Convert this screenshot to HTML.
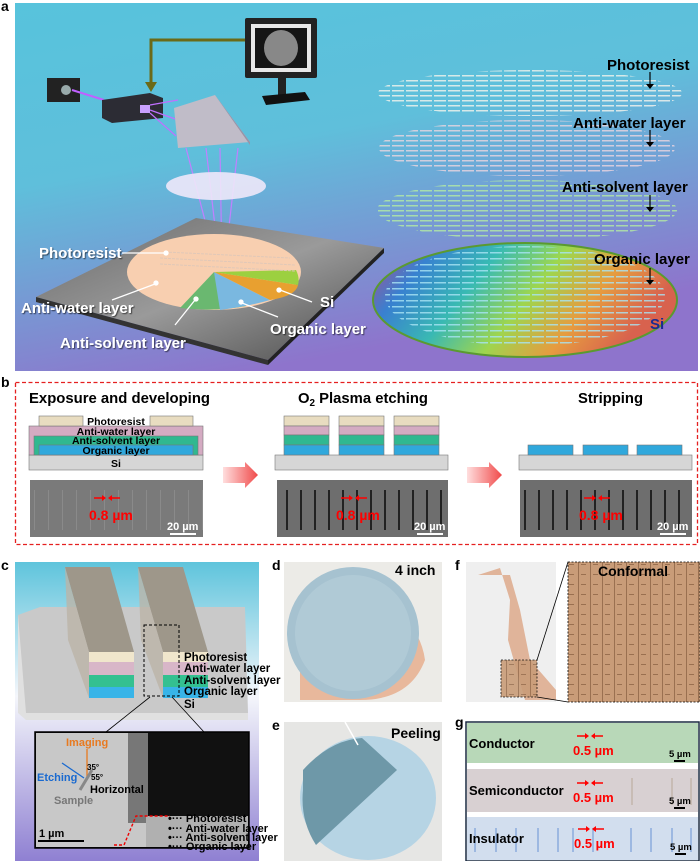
<!DOCTYPE html>
<html><head><meta charset="utf-8"><style>
html,body{margin:0;padding:0;background:#fff;width:700px;height:861px;overflow:hidden}
svg{display:block}
text{font-family:"Liberation Sans",sans-serif;font-weight:bold}
</style></head><body>
<svg width="700" height="861" viewBox="0 0 700 861" xmlns="http://www.w3.org/2000/svg">
<defs>
<linearGradient id="ga" x1="0" y1="0" x2="0.35" y2="1">
<stop offset="0" stop-color="#57c3dc"/><stop offset="0.45" stop-color="#5fbfdb"/><stop offset="1" stop-color="#8e74cc"/></linearGradient>
<linearGradient id="gc" x1="0" y1="0" x2="0" y2="1">
<stop offset="0" stop-color="#5ec4dc"/><stop offset="0.45" stop-color="#f4f6fb"/><stop offset="1" stop-color="#8f80d2"/></linearGradient>
<linearGradient id="rainbow" x1="0" y1="0" x2="1" y2="0.3">
<stop offset="0" stop-color="#c04080"/><stop offset="0.2" stop-color="#3080d0"/><stop offset="0.4" stop-color="#30c0b0"/><stop offset="0.6" stop-color="#a0e040"/><stop offset="0.8" stop-color="#f0a030"/><stop offset="1" stop-color="#e06040"/></linearGradient>
<linearGradient id="plat" x1="0" y1="0" x2="1" y2="1">
<stop offset="0" stop-color="#6a6a6a"/><stop offset="0.5" stop-color="#9a9a9a"/><stop offset="1" stop-color="#4a4a4a"/></linearGradient>
<linearGradient id="arr" x1="0" y1="0" x2="1" y2="0">
<stop offset="0" stop-color="#ffdede"/><stop offset="1" stop-color="#f04a4a"/></linearGradient>
<pattern id="lw" width="14" height="5" patternUnits="userSpaceOnUse"><rect width="12" height="1.5" fill="#fff8ee"/></pattern>
<pattern id="lp" width="14" height="5" patternUnits="userSpaceOnUse"><rect width="12" height="1.5" fill="#f4d8e0"/></pattern>
<pattern id="lg" width="14" height="5" patternUnits="userSpaceOnUse"><rect width="12" height="1.5" fill="#b8f0a0"/></pattern>
<pattern id="lb" width="14" height="6" patternUnits="userSpaceOnUse"><rect width="12" height="1.5" fill="#a8e4f4"/></pattern>
<pattern id="sem" width="14" height="60" patternUnits="userSpaceOnUse"><rect width="14" height="60" fill="#6e6e6e"/><rect x="6" y="10" width="2" height="40" fill="#222"/></pattern>
<pattern id="sem0" width="14" height="60" patternUnits="userSpaceOnUse"><rect width="14" height="60" fill="#7a7a7a"/><rect x="6" y="10" width="1" height="40" fill="#8a8a8a"/></pattern>
<pattern id="skin" width="12" height="10" patternUnits="userSpaceOnUse"><rect width="12" height="10" fill="#c99c78"/><rect x="2" y="0" width="1" height="10" fill="#9a7050"/><rect x="5" y="4" width="5" height="1" fill="#9a7050"/></pattern>
<filter id="sh"><feDropShadow dx="1" dy="1" stdDeviation="0.6" flood-color="#000" flood-opacity="0.6"/></filter>
</defs>

<text x="1" y="11" font-size="14">a</text>
<rect x="15" y="3" width="683" height="368" fill="url(#ga)"/>
<rect x="245" y="18" width="72" height="60" fill="#222" rx="2"/>
<rect x="251" y="24" width="60" height="48" fill="#e8e8e8"/>
<rect x="255" y="28" width="52" height="40" fill="#151515"/>
<ellipse cx="281" cy="48" rx="17" ry="18" fill="#888"/>
<rect x="278" y="78" width="8" height="18" fill="#222"/>
<path d="M262 96 L305 92 L310 100 L266 105 Z" fill="#111"/>
<path d="M245 40 L151 40 L151 84" stroke="#6b6a18" stroke-width="3" fill="none"/>
<path d="M145 82 L157 82 L151 92 Z" fill="#6b6a18"/>
<rect x="47" y="78" width="33" height="24" fill="#222"/>
<circle cx="66" cy="90" r="5" fill="#9aa"/>
<line x1="72" y1="90" x2="104" y2="100" stroke="#c060ff" stroke-width="2"/>
<path d="M102 100 L150 93 L163 98 L163 118 L112 123 L102 118 Z" fill="#2c2c34"/>
<rect x="140" y="105" width="10" height="8" fill="#c8a0ff"/>
<path d="M150 105 L178 100 M150 110 L178 120 M150 113 L176 136" stroke="#c070ff" stroke-width="1.2"/>
<path d="M174 108 L215 95 L250 142 L178 148 Z" fill="#c0bcc8"/>
<path d="M215 95 L250 142 L250 145 Z" fill="#9894a8"/>
<path d="M186 148 L218 270 M206 148 L220 270 M220 148 L222 270 M238 148 L224 270" stroke="#c080ff" stroke-width="1.2"/>
<ellipse cx="216" cy="186" rx="50" ry="14" fill="#eee8fa" opacity="0.9"/>
<path d="M196 218 L384 248 L268 360 L36 297 Z" fill="url(#plat)"/>
<path d="M36 297 L268 360 L268 365 L36 302 Z" fill="#333"/>
<path d="M384 248 L384 253 L268 365 L268 360 Z" fill="#222"/>
<ellipse cx="214" cy="272" rx="87" ry="38" fill="#f8cfb0"/>
<path d="M214 272 L180 308 Q214 312 246 306 Z" fill="#6ab870"/>
<path d="M214 272 L220 310 Q250 306 270 300 Z" fill="#7ab8e0"/>
<path d="M214 272 L298 285 Q296 296 270 300 Z" fill="#e8a030"/>
<path d="M214 272 L298 285 Q300 278 296 270 Z" fill="#9cd040"/>
<g stroke="#e0c8b8" stroke-width="1" stroke-dasharray="3 1">
<line x1="165" y1="252" x2="290" y2="258"/><line x1="160" y1="258" x2="295" y2="265"/><line x1="160" y1="264" x2="295" y2="271"/></g>
<g fill="#fff" font-size="15" filter="url(#sh)">
<text x="39" y="258">Photoresist</text>
<text x="21" y="313">Anti-water layer</text>
<text x="60" y="348">Anti-solvent layer</text>
<text x="270" y="334">Organic layer</text>
<text x="320" y="307">Si</text></g>
<g stroke="#fff" stroke-width="1.3" fill="#fff">
<line x1="122" y1="253" x2="165" y2="253"/><circle cx="166" cy="253" r="2"/>
<line x1="112" y1="300" x2="155" y2="284"/><circle cx="156" cy="283" r="2"/>
<line x1="175" y1="325" x2="195" y2="300"/><circle cx="196" cy="299" r="2"/>
<line x1="278" y1="317" x2="242" y2="303"/><circle cx="241" cy="302" r="2"/>
<line x1="312" y1="302" x2="280" y2="290"/><circle cx="279" cy="290" r="2"/></g>
<ellipse cx="525" cy="300" rx="152" ry="57" fill="url(#rainbow)" opacity="0.9"/>
<ellipse cx="525" cy="300" rx="152" ry="57" fill="none" stroke="#5a9a30" stroke-width="2"/>
<ellipse cx="525" cy="296" rx="140" ry="50" fill="url(#lb)" opacity="0.8"/>
<ellipse cx="527" cy="210" rx="150" ry="30" fill="url(#lg)" opacity="0.75"/>
<ellipse cx="527" cy="148" rx="148" ry="28" fill="url(#lp)" opacity="0.75"/>
<ellipse cx="530" cy="93" rx="152" ry="23" fill="url(#lw)" opacity="0.75"/>
<g font-size="15" fill="#000">
<text x="607" y="70">Photoresist</text>
<text x="573" y="128">Anti-water layer</text>
<text x="562" y="192">Anti-solvent layer</text>
<text x="594" y="264">Organic layer</text></g>
<text x="650" y="329" font-size="15" fill="#1a2a90">Si</text>
<g stroke="#000" stroke-width="1.2">
<line x1="650" y1="72" x2="650" y2="86"/><line x1="650" y1="130" x2="650" y2="144"/><line x1="650" y1="195" x2="650" y2="209"/><line x1="650" y1="268" x2="650" y2="282"/></g>
<g fill="#000"><path d="M646 84 L654 84 L650 89Z"/><path d="M646 142 L654 142 L650 147Z"/><path d="M646 207 L654 207 L650 212Z"/><path d="M646 280 L654 280 L650 285Z"/></g>

<text x="1" y="387" font-size="14">b</text>
<rect x="15.5" y="382.5" width="682" height="162" fill="none" stroke="#e52020" stroke-width="1.3" stroke-dasharray="4 2.5"/>
<g font-size="15" fill="#000">
<text x="29" y="403" textLength="181" lengthAdjust="spacingAndGlyphs">Exposure and developing</text>
<text x="298" y="403" textLength="130" lengthAdjust="spacingAndGlyphs">O<tspan font-size="10" dy="3">2</tspan><tspan dy="-3"> Plasma etching</tspan></text>
<text x="578" y="403" textLength="65" lengthAdjust="spacingAndGlyphs">Stripping</text></g>
<g stroke="#777" stroke-width="0.6">
<rect x="29" y="455" width="174" height="15" fill="#d6d6d6"/>
<rect x="29" y="426" width="174" height="29" fill="#d4abc2"/>
<rect x="34" y="436" width="164" height="19" fill="#30b890"/>
<rect x="39" y="445" width="154" height="10" fill="#30a8dc"/>
<rect x="39" y="416" width="44" height="10" fill="#e8dcc0"/>
<rect x="150" y="416" width="43" height="10" fill="#e8dcc0"/>
<rect x="275" y="455" width="173" height="15" fill="#d6d6d6"/>
<rect x="519" y="455" width="173" height="15" fill="#d6d6d6"/>
</g>
<g stroke="#777" stroke-width="0.6">
<g id="col"><rect x="284" y="416" width="45" height="10" fill="#e8dcc0"/><rect x="284" y="426" width="45" height="9" fill="#d4abc2"/><rect x="284" y="435" width="45" height="10" fill="#30b890"/><rect x="284" y="445" width="45" height="10" fill="#30a8dc"/></g>
<use href="#col" x="55"/><use href="#col" x="110"/>
<rect x="528" y="445" width="45" height="10" fill="#30a8dc"/><rect x="583" y="445" width="45" height="10" fill="#30a8dc"/><rect x="637" y="445" width="45" height="10" fill="#30a8dc"/></g>
<g font-size="10.5" fill="#000" text-anchor="middle">
<text x="116" y="425">Photoresist</text><text x="116" y="435">Anti-water layer</text><text x="116" y="444">Anti-solvent layer</text><text x="116" y="454">Organic layer</text><text x="116" y="467">Si</text></g>
<path d="M223 467 L245 467 L245 462 L258 475 L245 488 L245 483 L223 483 Z" fill="url(#arr)"/>
<path d="M467 467 L489 467 L489 462 L502 475 L489 488 L489 483 L467 483 Z" fill="url(#arr)"/>
<rect x="30" y="480" width="173" height="57" fill="url(#sem0)"/>
<rect x="277" y="480" width="171" height="57" fill="url(#sem)"/>
<rect x="520" y="480" width="172" height="57" fill="url(#sem)"/>
<g id="mk">
<path d="M94 498 L104 498 M110 498 L120 498" stroke="#f00" stroke-width="1.5"/>
<path d="M102 495 L106 498 L102 501Z M112 495 L108 498 L112 501Z" fill="#f00"/>
<text x="89" y="520" font-size="14" fill="#f00">0.8 µm</text>
<text x="167" y="530" font-size="11" fill="#fff">20 µm</text>
<rect x="170" y="533" width="26" height="2" fill="#fff"/></g>
<use href="#mk" x="247"/><use href="#mk" x="490"/>

<text x="1" y="570" font-size="14">c</text>
<rect x="15" y="562" width="244" height="299" fill="url(#gc)"/>
<path d="M18 615 L40 607 L245 607 L248 713 L18 713 Z" fill="#c9c9c9"/>
<path d="M18 615 L18 713 L26 720 L248 720 L248 713 L26 713 Z" fill="#e0e0e0"/>
<g>
<path d="M65 567 L110 567 L134 652 L89 652 Z" fill="#9e978a"/>
<path d="M65 567 L89 652 L89 698 L68 640 Z" fill="#bcb4a8" opacity="0.8"/>
<rect x="89" y="652" width="45" height="10" fill="#f0e6cc"/><rect x="89" y="662" width="45" height="13" fill="#d8b6c8"/><rect x="89" y="675" width="45" height="12" fill="#34c090"/><rect x="89" y="687" width="45" height="11" fill="#38b4e8"/>
<path d="M138 567 L183 567 L208 652 L163 652 Z" fill="#9e978a"/>
<path d="M138 567 L163 652 L163 698 L141 640 Z" fill="#bcb4a8" opacity="0.8"/>
<rect x="163" y="652" width="45" height="10" fill="#f0e6cc"/><rect x="163" y="662" width="45" height="13" fill="#d8b6c8"/><rect x="163" y="675" width="45" height="12" fill="#34c090"/><rect x="163" y="687" width="45" height="11" fill="#38b4e8"/>
</g>
<rect x="144" y="625" width="35" height="71" fill="none" stroke="#000" stroke-dasharray="3 2" stroke-width="1"/>
<g font-size="11.5" fill="#000">
<text x="184" y="661">Photoresist</text><text x="184" y="672">Anti-water layer</text><text x="184" y="684">Anti-solvent layer</text><text x="184" y="695">Organic layer</text><text x="184" y="708">Si</text></g>
<line x1="150" y1="697" x2="106" y2="732" stroke="#000" stroke-width="0.8"/>
<line x1="172" y1="697" x2="204" y2="732" stroke="#000" stroke-width="0.8"/>
<rect x="35" y="732" width="214" height="116" fill="#111" stroke="#000" stroke-width="1.5"/>
<rect x="36" y="733" width="110" height="114" fill="#c8c8c8"/>
<rect x="128" y="733" width="20" height="90" fill="#777"/>
<rect x="146" y="816" width="102" height="31" fill="#b0b0b0"/>
<path d="M114 845 L124 845 L136 816 L170 816" stroke="#e00" stroke-width="1.4" stroke-dasharray="3 2" fill="none"/>
<text x="66" y="746" font-size="11" fill="#e87a20">Imaging</text>
<line x1="87" y1="749" x2="87" y2="778" stroke="#e87a20" stroke-width="1.3"/>
<line x1="62" y1="763" x2="84" y2="778" stroke="#1a6ad0" stroke-width="1.3"/>
<line x1="80" y1="790" x2="92" y2="770" stroke="#888" stroke-width="3"/>
<text x="87" y="770" font-size="8" fill="#000">35°</text><text x="91" y="780" font-size="8" fill="#000">55°</text>
<text x="37" y="781" font-size="11" fill="#1a6ad0">Etching</text>
<text x="90" y="793" font-size="11" fill="#000">Horizontal</text>
<text x="54" y="804" font-size="11" fill="#777">Sample</text>
<text x="39" y="837" font-size="11" fill="#000">1 µm</text>
<rect x="38" y="840" width="46" height="2" fill="#000"/>
<g font-size="11" fill="#000">
<text x="168" y="822">•··· Photoresist</text><text x="168" y="832">•··· Anti-water layer</text><text x="168" y="841">•··· Anti-solvent layer</text><text x="168" y="850">•··· Organic layer</text></g>

<text x="272" y="570" font-size="14">d</text>
<rect x="284" y="562" width="158" height="140" fill="#ecebe7"/>
<path d="M300 620 Q340 575 372 570 L370 590 Q420 620 425 660 Q410 700 360 700 L300 700 Z" fill="#e8b89c"/>
<ellipse cx="353" cy="633" rx="66" ry="66" fill="#a6c2d0"/>
<ellipse cx="353" cy="633" rx="58" ry="58" fill="#b0cad6"/>
<text x="395" y="575" font-size="14" fill="#000">4 inch</text>
<text x="272" y="730" font-size="14">e</text>
<rect x="284" y="722" width="158" height="139" fill="#e6e6e4"/>
<ellipse cx="368" cy="798" rx="68" ry="62" fill="#b6d4e4"/>
<path d="M303 770 Q330 740 362 738 L397 770 L316 845 Q300 820 303 790 Z" fill="#6e98a8"/>
<line x1="345" y1="722" x2="358" y2="745" stroke="#fff" stroke-width="1.5"/>
<text x="391" y="738" font-size="14" fill="#000">Peeling</text>
<text x="455" y="570" font-size="14">f</text>
<rect x="466" y="562" width="90" height="140" fill="#efefef"/>
<path d="M478 575 L500 568 L510 600 L508 640 L525 700 L556 700 L556 690 L530 660 L520 610 L510 575 Z" fill="#e0b49a"/>
<rect x="501" y="660" width="36" height="37" fill="url(#skin)" stroke="#000" stroke-dasharray="2 1.5" stroke-width="0.8" opacity="0.9"/>
<line x1="537" y1="660" x2="568" y2="562" stroke="#000" stroke-width="0.8"/>
<line x1="537" y1="697" x2="568" y2="702" stroke="#000" stroke-width="0.8"/>
<rect x="568" y="562" width="132" height="140" fill="url(#skin)" stroke="#000" stroke-dasharray="2 1.5" stroke-width="0.8"/>
<text x="598" y="576" font-size="14" fill="#000">Conformal</text>
<text x="455" y="727" font-size="14">g</text>
<rect x="466" y="722" width="233" height="139" fill="#fff" stroke="#1a2a40" stroke-width="1.5"/>
<rect x="467" y="723" width="231" height="40" fill="#b8d8b8"/>
<rect x="467" y="769" width="231" height="43" fill="#d8d0d2"/>
<rect x="467" y="817" width="231" height="43" fill="#d2deee"/>
<g stroke="#7aa0d8" stroke-width="1.2">
<line x1="475" y1="828" x2="475" y2="852"/><line x1="496" y1="828" x2="496" y2="852"/><line x1="516" y1="828" x2="516" y2="852"/><line x1="538" y1="828" x2="538" y2="852"/><line x1="558" y1="828" x2="558" y2="852"/><line x1="573" y1="828" x2="573" y2="852"/><line x1="593" y1="828" x2="593" y2="852"/><line x1="631" y1="828" x2="631" y2="852"/><line x1="651" y1="828" x2="651" y2="852"/><line x1="672" y1="828" x2="672" y2="852"/><line x1="691" y1="828" x2="691" y2="852"/></g>
<g stroke="#b8a898" stroke-width="1"><line x1="632" y1="778" x2="632" y2="805"/><line x1="672" y1="778" x2="672" y2="805"/><line x1="691" y1="778" x2="691" y2="805"/></g>
<g font-size="13" fill="#000"><text x="469" y="748">Conductor</text><text x="469" y="795">Semiconductor</text><text x="469" y="843">Insulator</text></g>
<g id="gm"><path d="M577 736 L587 736 M593 736 L603 736" stroke="#f00" stroke-width="1.5"/>
<path d="M585 733 L589 736 L585 739Z M595 733 L591 736 L595 739Z" fill="#f00"/>
<text x="573" y="755" font-size="13" fill="#f00">0.5 µm</text>
<text x="669" y="757" font-size="9.5" fill="#000">5 µm</text><rect x="674" y="760" width="11" height="2" fill="#000"/></g>
<use href="#gm" y="47"/><use href="#gm" x="1" y="93"/>
</svg>
</body></html>
